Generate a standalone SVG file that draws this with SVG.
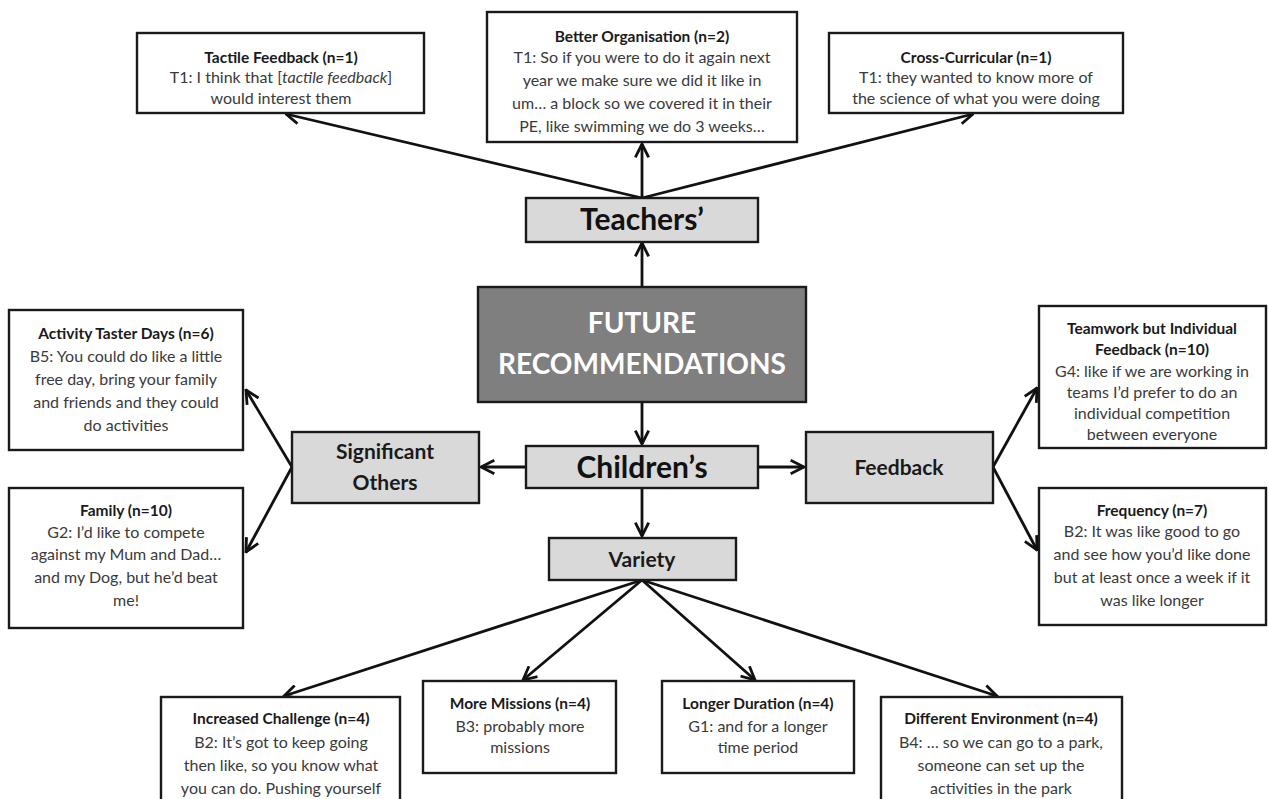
<svg xmlns="http://www.w3.org/2000/svg" width="1269" height="799" viewBox="0 0 1269 799">
<style>
.box{fill:#fff;stroke:#1a1a1a;stroke-width:2.4}
.lbox{fill:#d9d9d9;stroke:#1a1a1a;stroke-width:2.4}
.main{fill:#7f7f7f;stroke:#1a1a1a;stroke-width:2.4}
.t{font-family:Lato,"Open Sans",sans-serif;font-size:16px;fill:#3a3a3a;text-anchor:middle}
.h{font-family:Lato,"Open Sans",sans-serif;font-size:15.5px;font-weight:bold;fill:#1a1a1a;text-anchor:middle}
.big{font-family:Lato,"Open Sans",sans-serif;font-size:30px;font-weight:bold;fill:#111;text-anchor:middle}
.mid{font-family:Lato,"Open Sans",sans-serif;font-size:21px;font-weight:bold;fill:#1a1a1a;text-anchor:middle}
.w{font-family:Lato,"Open Sans",sans-serif;font-size:28px;font-weight:bold;fill:#fff;text-anchor:middle}
.c{stroke:#111;stroke-width:2.8;fill:none;marker-end:url(#arr)}
</style>
<defs>
<marker id="arr" viewBox="0 0 12 12" refX="11" refY="6" markerWidth="16" markerHeight="16" orient="auto" markerUnits="userSpaceOnUse">
<path d="M1,1 L11,6 L1,11" fill="none" stroke="#111" stroke-width="2.1"/>
</marker>
</defs>
<rect width="1269" height="799" fill="#fff"/>
<g id="connectors">
<line class="c" x1="642" y1="287" x2="642" y2="243"/>
<line class="c" x1="642" y1="198" x2="286" y2="114"/>
<line class="c" x1="642" y1="198" x2="642" y2="144"/>
<line class="c" x1="642" y1="198" x2="973" y2="114"/>
<line class="c" x1="642" y1="402" x2="642" y2="444"/>
<line class="c" x1="525" y1="467" x2="481" y2="467"/>
<line class="c" x1="758" y1="467" x2="804" y2="467"/>
<line class="c" x1="642" y1="488" x2="642" y2="536"/>
<line class="c" x1="292" y1="467" x2="246" y2="390"/>
<line class="c" x1="292" y1="467" x2="246" y2="552"/>
<line class="c" x1="993" y1="467" x2="1037" y2="388"/>
<line class="c" x1="993" y1="467" x2="1037" y2="550"/>
<line class="c" x1="642" y1="580" x2="284" y2="696"/>
<line class="c" x1="642" y1="580" x2="523" y2="680"/>
<line class="c" x1="642" y1="580" x2="755" y2="680"/>
<line class="c" x1="642" y1="580" x2="997" y2="696"/>
</g>
<g id="future">
<rect class="main" x="478" y="287" width="328" height="115"/>
<text class="w" x="642" y="333">FUTURE</text>
<text class="w" x="642" y="374">RECOMMENDATIONS</text>
</g>
<g id="teachers">
<rect class="lbox" x="526" y="198" width="232" height="44"/>
<text class="big" x="642" y="230">Teachers’</text>
</g>
<g id="childrens">
<rect class="lbox" x="526" y="446" width="232" height="42"/>
<text class="big" x="642" y="478">Children’s</text>
</g>
<g id="significant">
<rect class="lbox" x="292" y="432" width="187" height="71"/>
<text class="mid" x="385" y="459">Significant</text>
<text class="mid" x="385" y="490">Others</text>
</g>
<g id="feedback">
<rect class="lbox" x="806" y="432" width="187" height="71"/>
<text class="mid" x="899" y="475">Feedback</text>
</g>
<g id="variety">
<rect class="lbox" x="549" y="538" width="187" height="42"/>
<text class="mid" x="642" y="567">Variety</text>
</g>
<g id="tactile">
<rect class="box" x="137" y="33" width="287" height="80"/>
<text class="h" x="281" y="63">Tactile Feedback (n=1)</text>
<text class="t" x="281" y="83">T1: I think that [<tspan font-style="italic">tactile feedback</tspan>]</text>
<text class="t" x="281" y="104">would interest them</text>
</g>
<g id="organisation">
<rect class="box" x="487" y="12" width="310" height="130"/>
<text class="h" x="642" y="42">Better Organisation (n=2)</text>
<text class="t" x="642" y="63">T1: So if you were to do it again next</text>
<text class="t" x="642" y="86">year we make sure we did it like in</text>
<text class="t" x="642" y="109">um… a block so we covered it in their</text>
<text class="t" x="642" y="132">PE, like swimming we do 3 weeks…</text>
</g>
<g id="crosscurricular">
<rect class="box" x="829" y="33" width="294" height="80"/>
<text class="h" x="976" y="63">Cross-Curricular (n=1)</text>
<text class="t" x="976" y="83">T1: they wanted to know more of</text>
<text class="t" x="976" y="104">the science of what you were doing</text>
</g>
<g id="activity">
<rect class="box" x="9" y="310" width="234" height="140"/>
<text class="h" x="126" y="339">Activity Taster Days (n=6)</text>
<text class="t" x="126" y="362">B5: You could do like a little</text>
<text class="t" x="126" y="385">free day, bring your family</text>
<text class="t" x="126" y="408">and friends and they could</text>
<text class="t" x="126" y="431">do activities</text>
</g>
<g id="family">
<rect class="box" x="9" y="488" width="234" height="140"/>
<text class="h" x="126" y="516">Family (n=10)</text>
<text class="t" x="126" y="538">G2: I’d like to compete</text>
<text class="t" x="126" y="560">against my Mum and Dad…</text>
<text class="t" x="126" y="583">and my Dog, but he’d beat</text>
<text class="t" x="126" y="606">me!</text>
</g>
<g id="teamwork">
<rect class="box" x="1039" y="306" width="227" height="142"/>
<text class="h" x="1152" y="334">Teamwork but Individual</text>
<text class="h" x="1152" y="355">Feedback (n=10)</text>
<text class="t" x="1152" y="377">G4: like if we are working in</text>
<text class="t" x="1152" y="398">teams I’d prefer to do an</text>
<text class="t" x="1152" y="419">individual competition</text>
<text class="t" x="1152" y="440">between everyone</text>
</g>
<g id="frequency">
<rect class="box" x="1039" y="488" width="227" height="137"/>
<text class="h" x="1152" y="516">Frequency (n=7)</text>
<text class="t" x="1152" y="537">B2: It was like good to go</text>
<text class="t" x="1152" y="560">and see how you’d like done</text>
<text class="t" x="1152" y="583">but at least once a week if it</text>
<text class="t" x="1152" y="606">was like longer</text>
</g>
<g id="challenge">
<rect class="box" x="161" y="697" width="239" height="120"/>
<text class="h" x="281" y="724">Increased Challenge (n=4)</text>
<text class="t" x="281" y="748">B2: It’s got to keep going</text>
<text class="t" x="281" y="771">then like, so you know what</text>
<text class="t" x="281" y="794">you can do. Pushing yourself</text>
</g>
<g id="missions">
<rect class="box" x="423" y="681" width="193" height="92"/>
<text class="h" x="520" y="709">More Missions (n=4)</text>
<text class="t" x="520" y="732">B3: probably more</text>
<text class="t" x="520" y="753">missions</text>
</g>
<g id="duration">
<rect class="box" x="662" y="681" width="192" height="92"/>
<text class="h" x="758" y="709">Longer Duration (n=4)</text>
<text class="t" x="758" y="732">G1: and for a longer</text>
<text class="t" x="758" y="753">time period</text>
</g>
<g id="environment">
<rect class="box" x="881" y="697" width="241" height="120"/>
<text class="h" x="1001" y="724">Different Environment (n=4)</text>
<text class="t" x="1001" y="748">B4: … so we can go to a park,</text>
<text class="t" x="1001" y="771">someone can set up the</text>
<text class="t" x="1001" y="794">activities in the park</text>
</g>
</svg>
